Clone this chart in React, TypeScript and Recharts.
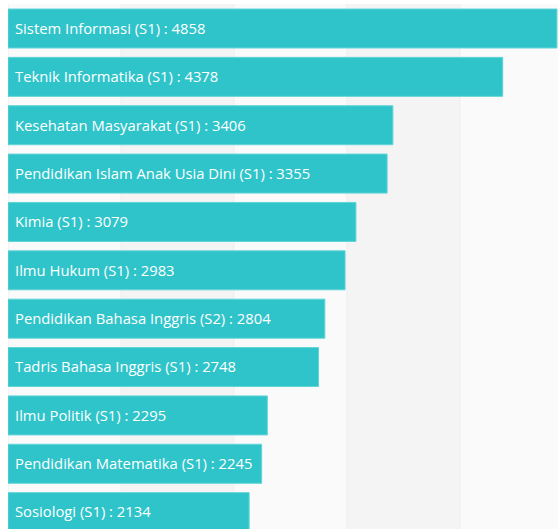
import React from "react";
import { BarChart, Bar, XAxis, YAxis, CartesianGrid, LabelList } from "recharts";

const programs = [
  "Sistem Informasi (S1)",
  "Teknik Informatika (S1)",
  "Kesehatan Masyarakat (S1)",
  "Pendidikan Islam Anak Usia Dini (S1)",
  "Kimia (S1)",
  "Ilmu Hukum (S1)",
  "Pendidikan Bahasa Inggris (S2)",
  "Tadris Bahasa Inggris (S1)",
  "Ilmu Politik (S1)",
  "Pendidikan Matematika (S1)",
  "Sosiologi (S1)",
];
const counts = [4858, 4378, 3406, 3355, 3079, 2983, 2804, 2748, 2295, 2245, 2134];
const xTicks = [0, 1000, 2000, 3000, 4000, 5000];

const data = programs.map((name, i) => ({
  name,
  value: counts[i],
  label: `${name} : ${counts[i]}`,
}));

const renderLabel = (props: any) => {
  const { x, y, height, value } = props;
  return (
    <text
      x={Number(x) + 7}
      y={Number(y) + Number(height) / 2}
      dy="0.36em"
      fill="#ffffff"
      fontFamily="'Open Sans', sans-serif"
      fontSize={14.8}
    >
      {value}
    </text>
  );
};

export default function App() {
  return (
    <div
      style={{
        position: "fixed",
        top: 0,
        left: 0,
        width: 558,
        height: 529,
        overflow: "hidden",
        background: "#ffffff",
      }}
    >
      <div style={{ position: "absolute", left: 8, top: 0 }}>
        <BarChart
          width={565}
          height={536}
          data={data}
          layout="vertical"
          margin={{ top: 4, right: 0, bottom: 0, left: 0 }}
          barSize={39}
        >
          <CartesianGrid
            horizontal={false}
            vertical={true}
            stroke="#eeeeee"
            verticalFill={["#fafafa", "#f4f4f4"]}
            fillOpacity={1}
          />
          <XAxis type="number" domain={[0, 5000]} ticks={xTicks} hide />
          <YAxis type="category" dataKey="name" hide />
          <Bar
            dataKey="value"
            fill="#2fc4ca"
            stroke="#62d4d8"
            strokeWidth={1}
            isAnimationActive={false}
          >
            <LabelList dataKey="label" content={renderLabel} />
          </Bar>
        </BarChart>
      </div>
    </div>
  );
}
